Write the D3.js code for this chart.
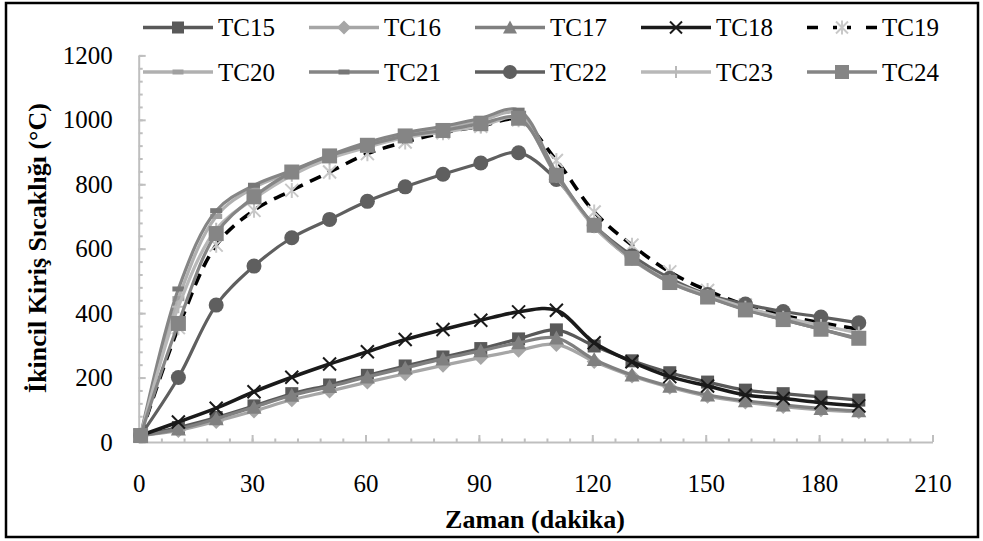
<!DOCTYPE html>
<html lang="tr">
<head>
  <meta charset="UTF-8">
  <title>İkincil Kiriş Sıcaklığı</title>
  <style>
    body { margin: 0; background: #fff; }
    svg, svg text { font-family: "Liberation Serif", "Times New Roman", "DejaVu Serif", serif; }
  </style>
</head>
<body>
  <div id="chart"></div>

  <script src="https://d3js.org/d3.v7.min.js"></script>
  <script>
    // time (dakika) of each reading
    const times = [0.5, 10.5, 20.5, 30.5, 40.5, 50.5, 60.5, 70.5, 80.5, 90.5,
                   100.5, 110.5, 120.5, 130.5, 140.5, 150.5, 160.5, 170.5, 180.5, 190.5];

    const xTicks = [0, 30, 60, 90, 120, 150, 180, 210];
    const yTicks = [0, 200, 400, 600, 800, 1000, 1200];

    const tc15 = [20, 45, 76, 112, 150, 177, 207, 236, 264, 290, 320, 348, 298, 252, 215, 186, 161, 150, 140, 130];
    const tc16 = [20, 36, 64, 96, 131, 158, 186, 212, 238, 262, 285, 303, 250, 205, 170, 142, 124, 110, 100, 94];
    const tc17 = [20, 40, 72, 108, 145, 172, 202, 230, 258, 283, 308, 323, 256, 208, 173, 146, 128, 115, 104, 97];
    const tc18 = [20, 62, 105, 156, 201, 242, 280, 318, 349, 378, 404, 409, 308, 249, 203, 174, 146, 135, 122, 112];
    const tc19 = [20, 355, 611, 719, 781, 838, 895, 931, 960, 980, 1000, 874, 714, 611, 528, 470, 425, 393, 370, 350];
    const tc20 = [20, 445, 700, 790, 838, 885, 925, 955, 975, 998, 1020, 830, 668, 566, 496, 450, 412, 380, 350, 320];
    const tc21 = [20, 475, 718, 797, 843, 890, 930, 960, 980, 1005, 1030, 835, 670, 568, 498, 452, 412, 380, 350, 318];
    const tc22 = [20, 200, 425, 546, 634, 691, 747, 792, 831, 866, 898, 815, 672, 578, 508, 458, 428, 405, 388, 370];
    const tc23 = [20, 420, 660, 755, 828, 880, 915, 945, 962, 980, 1005, 825, 668, 568, 500, 455, 418, 387, 362, 338];
    const tc24 = [20, 368, 647, 761, 838, 888, 921, 950, 967, 988, 1005, 828, 673, 570, 495, 450, 410, 380, 350, 322];

    const series = [
      {name: "TC15", values: tc15, color: "#595959", marker: "square", mcolor: "#595959", size: 13},
      {name: "TC16", values: tc16, color: "#a6a6a6", marker: "diamond", mcolor: "#a6a6a6", size: 13},
      {name: "TC17", values: tc17, color: "#808080", marker: "triangle", mcolor: "#808080", size: 13},
      {name: "TC18", values: tc18, color: "#1a1a1a", marker: "cross", mcolor: "#1a1a1a", size: 13},
      {name: "TC19", values: tc19, color: "#000000", marker: "star", mcolor: "#c8c8c8", size: 13, dash: "12,8"},
      {name: "TC20", values: tc20, color: "#b0b0b0", marker: "dash", mcolor: "#a0a0a0", size: 12},
      {name: "TC21", values: tc21, color: "#858585", marker: "dash", mcolor: "#777777", size: 12},
      {name: "TC22", values: tc22, color: "#5f5f5f", marker: "circle", mcolor: "#5f5f5f", size: 15},
      {name: "TC23", values: tc23, color: "#b8b8b8", marker: "plus", mcolor: "#b8b8b8", size: 13},
      {name: "TC24", values: tc24, color: "#858585", marker: "square", mcolor: "#858585", size: 15}
    ];

    const width = 983, height = 541;
    const serif = "'Liberation Serif', 'Times New Roman', 'DejaVu Serif', serif";

    const svg = d3.select("#chart").append("svg")
      .attr("width", width)
      .attr("height", height);

    // outer frame
    svg.append("rect")
      .attr("x", 6).attr("y", 3)
      .attr("width", 972).attr("height", 534)
      .attr("fill", "white")
      .attr("stroke", "black")
      .attr("stroke-width", 2.5);

    const x = d3.scaleLinear([0, 210], [138.7, 932.5]);
    const y = d3.scaleLinear([0, 1200], [442, 55.4]);

    const axisColor = "#bfbfbf";

    // minor ticks
    svg.append("g")
      .attr("transform", `translate(0,${y(0)})`)
      .call(d3.axisBottom(x).tickValues(d3.range(0, 211, 6)).tickSize(-3.5).tickFormat(""))
      .call(g => g.select(".domain").remove());
    svg.append("g")
      .attr("transform", `translate(${x(0)},0)`)
      .call(d3.axisLeft(y).tickValues(d3.range(0, 1201, 40)).tickSize(-4).tickFormat(""))
      .call(g => g.select(".domain").remove());

    svg.append("g")
      .attr("class", "x axis")
      .attr("transform", `translate(0,${y(0)})`)
      .call(d3.axisBottom(x).tickValues(xTicks).tickFormat(d3.format("d"))
        .tickSize(-7).tickSizeOuter(0).tickPadding(32));

    svg.append("g")
      .attr("class", "y axis")
      .attr("transform", `translate(${x(0)},0)`)
      .call(d3.axisLeft(y).tickValues(yTicks).tickFormat(d3.format("d"))
        .tickSize(-7).tickSizeOuter(0).tickPadding(26));

    svg.selectAll("g").attr("font-family", serif);
    svg.selectAll(".tick line, .domain")
      .attr("stroke", axisColor)
      .attr("stroke-width", 2);
    svg.selectAll(".tick text")
      .attr("fill", "#000")
      .attr("font-size", 25)
      .attr("font-family", serif);

    // axis titles
    svg.append("text")
      .attr("x", 535)
      .attr("y", 528)
      .attr("text-anchor", "middle")
      .attr("font-family", serif)
      .attr("font-size", 26)
      .attr("font-weight", "bold")
      .text("Zaman (dakika)");

    svg.append("text")
      .attr("transform", "translate(46,248) rotate(-90)")
      .attr("text-anchor", "middle")
      .attr("font-family", serif)
      .attr("font-size", 26)
      .attr("font-weight", "bold")
      .text("İkincil Kiriş Sıcaklığı (°C)");

    function drawMarker(g, type, cx, cy, s, color) {
      const h = s / 2;
      if (type === "square") {
        g.append("rect").attr("x", cx - h).attr("y", cy - h)
          .attr("width", s).attr("height", s).attr("fill", color);
      } else if (type === "diamond") {
        g.append("path").attr("d", `M${cx},${cy - h - 1}L${cx + h + 1},${cy}L${cx},${cy + h + 1}L${cx - h - 1},${cy}Z`)
          .attr("fill", color);
      } else if (type === "triangle") {
        g.append("path").attr("d", `M${cx},${cy - h - 1}L${cx + h + 1},${cy + h}L${cx - h - 1},${cy + h}Z`)
          .attr("fill", color);
      } else if (type === "circle") {
        g.append("circle").attr("cx", cx).attr("cy", cy).attr("r", h).attr("fill", color);
      } else if (type === "cross") {
        g.append("path").attr("d", `M${cx - h},${cy - h}L${cx + h},${cy + h}M${cx - h},${cy + h}L${cx + h},${cy - h}`)
          .attr("stroke", color).attr("stroke-width", 2);
      } else if (type === "plus") {
        g.append("path").attr("d", `M${cx - h},${cy}L${cx + h},${cy}M${cx},${cy - h}L${cx},${cy + h}`)
          .attr("stroke", color).attr("stroke-width", 2);
      } else if (type === "star") {
        g.append("path").attr("d",
          `M${cx - h},${cy - h}L${cx + h},${cy + h}M${cx - h},${cy + h}L${cx + h},${cy - h}M${cx},${cy - h - 1}L${cx},${cy + h + 1}`)
          .attr("stroke", color).attr("stroke-width", 2);
      } else if (type === "dash") {
        g.append("rect").attr("x", cx - h).attr("y", cy - 2.5)
          .attr("width", s).attr("height", 5).attr("fill", color);
      }
    }

    const line = d3.line()
      .x((d, i) => x(times[i]))
      .y(d => y(d))
      .curve(d3.curveCatmullRom.alpha(0.5));

    const plot = svg.append("g");

    series.forEach(s => {
      const g = plot.append("g");
      g.append("path")
        .attr("d", line(s.values))
        .attr("fill", "none")
        .attr("stroke", s.color)
        .attr("stroke-width", s.name === "TC18" || s.name === "TC19" ? 3.6 : 3.2)
        .attr("stroke-dasharray", s.dash || null);
      s.values.forEach((v, i) => drawMarker(g, s.marker, x(times[i]), y(v), s.size, s.mcolor));
    });

    // legend: two rows of five
    const legend = svg.append("g");
    series.forEach((s, i) => {
      const col = i % 5, row = Math.floor(i / 5);
      const lx = 143 + col * 166, ly = row === 0 ? 27.5 : 72;
      const g = legend.append("g");
      g.append("line")
        .attr("x1", lx).attr("x2", lx + 70)
        .attr("y1", ly).attr("y2", ly)
        .attr("stroke", s.color)
        .attr("stroke-width", 3.4)
        .attr("stroke-dasharray", s.dash ? "11,15,4,10,4,15,11" : null);
      drawMarker(g, s.marker, lx + 35, ly, s.size - 1, s.mcolor);
      g.append("text")
        .attr("x", lx + 75)
        .attr("y", ly + 8.5)
        .attr("font-family", serif)
        .attr("font-size", 25)
        .text(s.name);
    });
  </script>
</body>
</html>
